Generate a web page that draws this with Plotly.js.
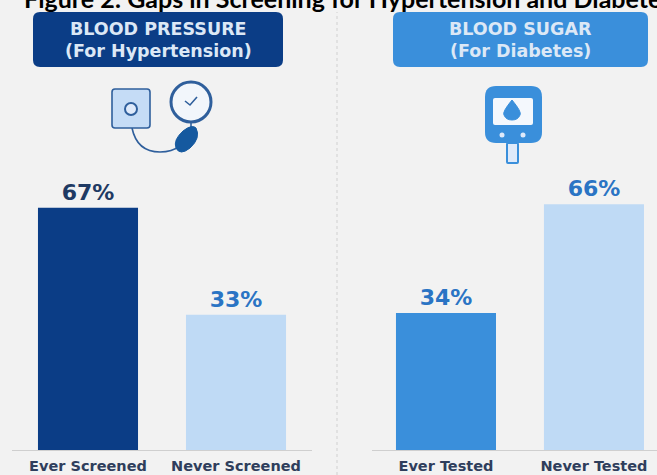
<!DOCTYPE html>
<html>
<head>
<meta charset="utf-8">
<script src="https://cdn.plot.ly/plotly-3.0.1.min.js"></script>
<style>html,body{margin:0;padding:0;background:#f2f2f2;overflow:hidden}#c{width:657px;height:475px}</style>
</head>
<body>
<div id="c"></div>
<script>
const titleText = 'Figure 2: Gaps in Screening for Hypertension and Diabetes';
const pressureCategories = ['Ever Screened', 'Never Screened'];
const pressureValues = [67, 33];
const sugarCategories = ['Ever Tested', 'Never Tested'];
const sugarValues = [34, 66];
const pressureColors = ['#0b3d86', '#bfdaf5'];
const sugarColors = ['#3a8fdb', '#bfdaf5'];
const pressureLabelColor = ['#1f3a63', '#2a74c4'];
const sugarLabelColor = ['#2a74c4', '#2a74c4'];

const W = 657, H = 475;
const X = p => p / W, Y = p => 1 - p / H;
const pt = (x, y) => X(x) + ' ' + Y(y);
const FONT = '"DejaVu Sans", sans-serif';

/* The source draws its bars on a truncated scale: the baseline is below zero. */
const pressureFloor = -9.9;
const sugarFloor = -6.3;

function bars(cats, vals, colors, labelColors, floor, xa, ya) {
  return {
    type: 'bar', x: cats, y: vals.map(v => v - floor), base: floor,
    xaxis: xa, yaxis: ya, width: 0.676, cliponaxis: false,
    marker: {color: colors, line: {width: 0}},
    text: vals.map(v => v + '%'), textposition: 'outside',
    textfont: {family: FONT, size: 22, color: labelColors, weight: 700},
    hoverinfo: 'skip', showlegend: false
  };
}

const data = [
  bars(pressureCategories, pressureValues, pressureColors, pressureLabelColor, pressureFloor, 'x', 'y'),
  bars(sugarCategories, sugarValues, sugarColors, sugarLabelColor, sugarFloor, 'x2', 'y2')
];

function rect(x0, y0, x1, y1, r, fill, line, lw) {
  const p = [
    'M', pt(x0 + r, y0), 'L', pt(x1 - r, y0), 'Q', pt(x1, y0), pt(x1, y0 + r),
    'L', pt(x1, y1 - r), 'Q', pt(x1, y1), pt(x1 - r, y1),
    'L', pt(x0 + r, y1), 'Q', pt(x0, y1), pt(x0, y1 - r),
    'L', pt(x0, y0 + r), 'Q', pt(x0, y0), pt(x0 + r, y0), 'Z'
  ].join(' ');
  return {type: 'path', xref: 'paper', yref: 'paper', path: p, fillcolor: fill,
          line: {color: line || fill, width: lw === undefined ? 0 : lw}};
}
function circle(cx, cy, r, fill, line, lw) {
  return {type: 'circle', xref: 'paper', yref: 'paper',
          x0: X(cx - r), x1: X(cx + r), y0: Y(cy + r), y1: Y(cy - r),
          fillcolor: fill, line: {color: line, width: lw}};
}
function path(parts, fill, line, lw) {
  return {type: 'path', xref: 'paper', yref: 'paper', path: parts.join(' '),
          fillcolor: fill, line: {color: line, width: lw}};
}

const shapes = [
  {type: 'line', xref: 'paper', yref: 'paper', x0: X(337), x1: X(337), y0: 0, y1: Y(12),
   line: {color: '#d0d0d0', width: 1, dash: 'dot'}},
  rect(33, 12, 283, 67, 7, '#0b3d86'),
  rect(393, 12, 648, 67, 7, '#3a8fdb'),
  /* blood pressure cuff */
  path(['M', pt(132, 128), 'Q', pt(137, 152), pt(160, 152), 'Q', pt(172, 152), pt(180, 146)], 'rgba(0,0,0,0)', '#2f5f9c', 1.6),
  rect(112, 89, 150, 128, 3, '#c5dcf6', '#2f5f9c', 1.6),
  circle(131, 109, 6, '#dfeafa', '#2f5f9c', 2),
  path(['M', pt(191, 118), 'L', pt(191, 130)], 'rgba(0,0,0,0)', '#2f5f9c', 1.6),
  circle(191, 102, 20, '#f2f6fb', '#2f5f9c', 3),
  path(['M', pt(185, 101), 'L', pt(190, 105), 'L', pt(197, 97)], 'rgba(0,0,0,0)', '#2f5f9c', 1.6),
  path(['M', pt(196, 128), 'Q', pt(201, 138), pt(190, 148), 'Q', pt(180, 156), pt(176, 148),
        'Q', pt(173, 140), pt(183, 131), 'Q', pt(192, 124), pt(196, 128), 'Z'], '#15599f', '#15599f', 1),
  /* glucose meter */
  rect(507, 143, 518, 163, 1, '#dfeafa', '#3a8fdb', 2),
  rect(485, 86, 542, 143, 11, '#3a8fdb'),
  rect(493, 98, 533, 125, 2, '#f4f8fd'),
  path(['M', pt(512, 100), 'Q', pt(522, 112), pt(520, 115), 'Q', pt(518, 120), pt(512, 120),
        'Q', pt(506, 120), pt(504, 115), 'Q', pt(502, 112), pt(512, 100), 'Z'], '#3a8fdb', '#3a8fdb', 1),
  circle(502, 135, 2.5, '#dfeafa', '#dfeafa', 0),
  circle(523, 135, 2.5, '#dfeafa', '#dfeafa', 0)
];

function note(text, x, y, size, color, family, weight) {
  return {text, xref: 'paper', yref: 'paper', x: X(x), y: Y(y), xanchor: 'center', yanchor: 'middle',
          showarrow: false, font: {family, size, color, weight}};
}
const annotations = [
  Object.assign(note(titleText, 22, -2, 25, '#000000', 'Lato, sans-serif', 700), {xanchor: 'left'}),
  note('BLOOD PRESSURE', 158, 29, 17.5, '#dce8f6', FONT, 700),
  note('(For Hypertension)', 158, 51, 17.5, '#dce8f6', FONT, 700),
  note('BLOOD SUGAR', 520, 29, 17.5, '#dce8f6', FONT, 700),
  note('(For Diabetes)', 520, 51, 17.5, '#dce8f6', FONT, 700)
];

const yDomain = [Y(450), Y(150)];
function xAxis(dom, range, anchor) {
  return {domain: dom, range, anchor, type: 'category', showgrid: false, zeroline: false,
          showline: true, linecolor: '#cfcfcf', linewidth: 1, ticks: '', fixedrange: true,
          ticklabelstandoff: 3,
          tickfont: {family: FONT, size: 14.5, color: '#2f3e5c', weight: 700}};
}
function yAxis(range, anchor) {
  return {domain: yDomain, range, anchor, showgrid: false, zeroline: false, showline: false,
          showticklabels: false, ticks: '', fixedrange: true};
}
/* pixels per unit: left 3.15, right 3.4, from the bar heights in the picture */
const layout = {
  width: W, height: H, margin: {l: 0, r: 0, t: 0, b: 0},
  paper_bgcolor: '#f2f2f2', plot_bgcolor: 'rgba(0,0,0,0)',
  xaxis: xAxis([X(12), X(312)], [-0.5135, 1.5135], 'y'),
  yaxis: yAxis([pressureFloor, pressureFloor + 300 / 3.15], 'x'),
  xaxis2: xAxis([X(372), 1], [-0.5, 1.426], 'y2'),
  yaxis2: yAxis([sugarFloor, sugarFloor + 300 / 3.4], 'x2'),
  shapes, annotations, showlegend: false
};
Plotly.newPlot('c', data, layout, {displayModeBar: false, staticPlot: true});
</script>
</body>
</html>
